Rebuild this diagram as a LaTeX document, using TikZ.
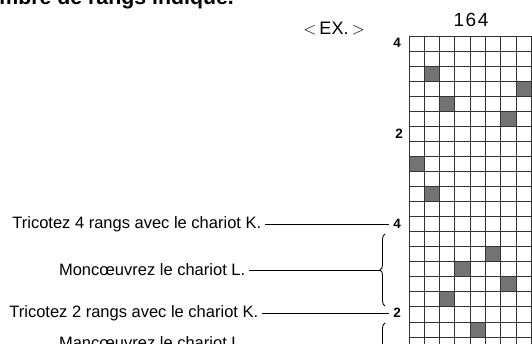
\documentclass[tikz,border=0pt]{standalone}
\usepackage{fontspec}
\setmainfont{Liberation Sans}
\usetikzlibrary{decorations.pathreplacing}
\begin{document}
\begin{tikzpicture}[x=1pt,y=-1pt,line width=0.9pt,font=\fontsize{16.5}{19}\selectfont]
  \useasboundingbox (0,0) rectangle (532,344);
  \clip (0,0) rectangle (532,344);
  % heading, cut off by the page
  \node[anchor=base west,inner sep=0pt,font=\fontsize{21.3}{24}\selectfont\bfseries] (head) at (-1,5) {mbre de rangs indiqué.};
  \node[font=\fontsize{18}{20}\selectfont] (ex) at (334,29) {\(<\)\,EX.\,\(>\)};
  \node[font=\fontsize{19}{20}\selectfont] (num) at (471,20) {1\kern1.5pt6\kern1.5pt4};
  % chart
  \foreach \c/\r in {1/2,7/3,2/4,6/5,0/8,1/10,5/14,3/15,6/16,2/17,4/19}
    \fill[black!55] (409+\c*15.3,36+\r*15.05) rectangle ++(15.3,15.05);
  \foreach \c in {0,...,8}
    \draw[black!80] (409+\c*15.3,36) -- (409+\c*15.3,352);
  \foreach \r in {0,...,21}
    \draw[black!80] (409,36+\r*15.05) -- (531.4,36+\r*15.05);
  % row numbers
  \node[font=\fontsize{13.5}{16}\selectfont\bfseries] (r4a) at (397,43) {4};
  \node[font=\fontsize{13.5}{16}\selectfont\bfseries] (r2a) at (399,134) {2};
  \node[font=\fontsize{13.5}{16}\selectfont\bfseries] (r4b) at (397,224) {4};
  \node[font=\fontsize{13.5}{16}\selectfont\bfseries] (r2b) at (397,313) {2};
  % steps
  \node[anchor=east] (t1) at (265,224) {Tricotez 4 rangs avec le chariot K.};
  \node[anchor=east] (t2) at (249,270) {Moncœuvrez le chariot L.};
  \node[anchor=east] (t3) at (262,313) {Tricotez 2 rangs avec le chariot K.};
  \node[anchor=east] (t4) at (249,343) {Mancœuvrez le chariot L.};
  \draw (t1.east) -- (r4b.west);
  \draw (t3.east) -- (r2b.west);
  \draw[decorate,decoration={brace,amplitude=5pt}] (385,306) -- (385,234);
  \coordinate (b1) at (380,270);
  \draw (t2.east) -- (b1);
  \draw[decorate,decoration={brace,amplitude=5pt}] (385,380) -- (385,323);
\end{tikzpicture}
\end{document}
